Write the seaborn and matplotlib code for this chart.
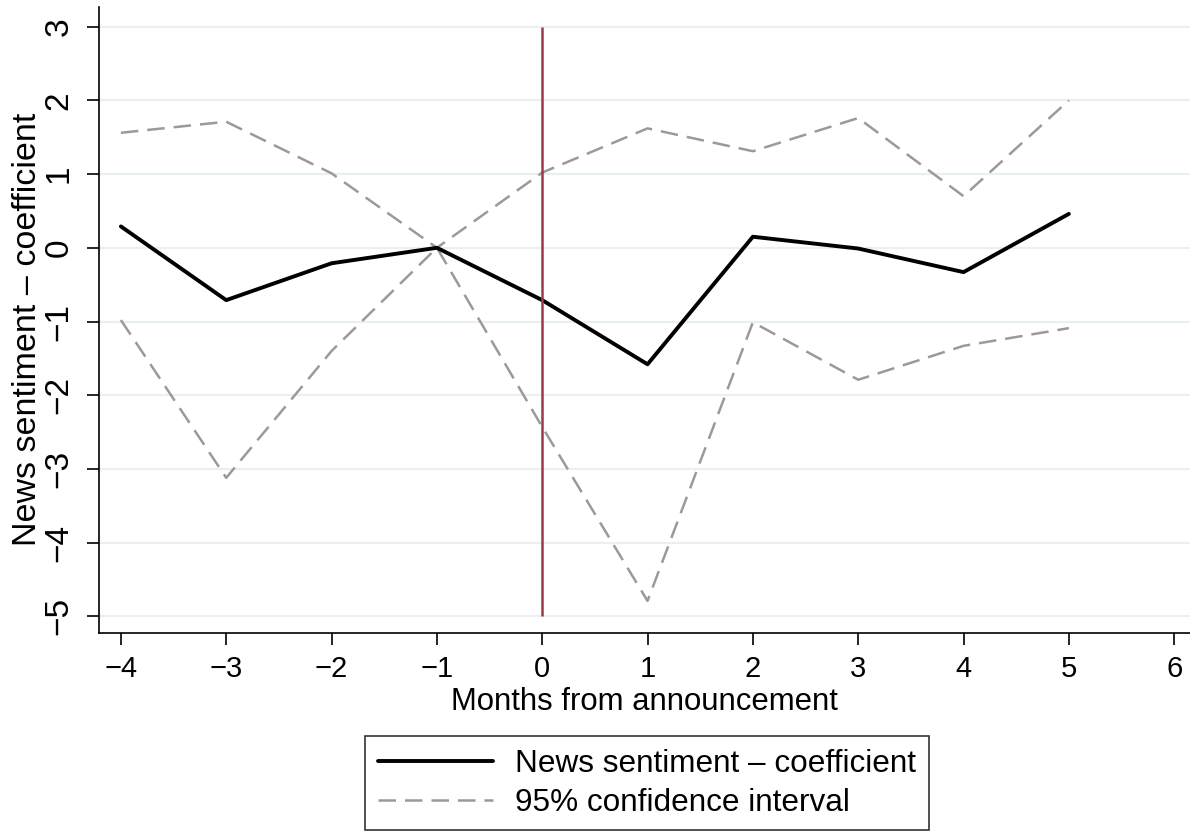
import matplotlib
matplotlib.use("Agg")
import matplotlib.pyplot as plt
import seaborn as sns
import pandas as pd
from matplotlib.lines import Line2D

# Event-study estimates: months relative to the announcement
months = [-4, -3, -2, -1, 0, 1, 2, 3, 4, 5]
coef = [0.29, -0.71, -0.21, 0.0, -0.71, -1.58, 0.15, -0.01, -0.33, 0.46]
ci_upper = [1.56, 1.71, 1.01, 0.0, 1.02, 1.62, 1.31, 1.76, 0.70, 2.00]
ci_lower = [-0.98, -3.12, -1.40, 0.0, -2.43, -4.79, -1.01, -1.79, -1.33, -1.09]

x_ticks = [-4, -3, -2, -1, 0, 1, 2, 3, 4, 5, 6]
y_ticks = [-5, -4, -3, -2, -1, 0, 1, 2, 3]
event_month = 0

sns.set_theme(style="white")
plt.rcParams["font.family"] = ["Liberation Sans", "DejaVu Sans"]
plt.rcParams["text.color"] = "black"
plt.rcParams["axes.labelcolor"] = "black"
plt.rcParams["xtick.color"] = "black"
plt.rcParams["ytick.color"] = "black"

df = pd.DataFrame({"month": months, "coef": coef,
                   "upper": ci_upper, "lower": ci_lower})

fig = plt.figure(figsize=(11.9, 8.4), dpi=100)
ax = fig.add_axes([0.083, 0.246, 0.917, 0.746])

grid_color = "#e8f0f2"
for yt in y_ticks:
    ax.axhline(yt, color=grid_color, lw=1.6, zorder=0)

ci_color = "#9a9a9a"
ci_dash = (0, (7, 3.6))
sns.lineplot(data=df, x="month", y="upper", ax=ax, color=ci_color,
             lw=1.8, linestyle=ci_dash, zorder=2)
sns.lineplot(data=df, x="month", y="lower", ax=ax, color=ci_color,
             lw=1.8, linestyle=ci_dash, zorder=2)
sns.lineplot(data=df, x="month", y="coef", ax=ax, color="black",
             lw=2.8, zorder=3)

ax.vlines(event_month, min(y_ticks), max(y_ticks), color="#9b3b44",
          lw=1.8, zorder=4)

ax.set_xlim(-4.21, 6.15)
ax.set_ylim(-5.23, 3.27)
ax.set_xticks(x_ticks)
ax.set_yticks(y_ticks)
ax.set_xticklabels([f"{v}".replace("-", "\u2212") for v in x_ticks])
ax.set_yticklabels([f"{v}".replace("-", "\u2212") for v in y_ticks],
                   rotation=90, va="center")

for side in ["top", "right"]:
    ax.spines[side].set_visible(False)
for side in ["left", "bottom"]:
    ax.spines[side].set_color("black")
    ax.spines[side].set_linewidth(1.2)

ax.tick_params(axis="both", which="major", direction="out", length=8.6,
               width=1.2, color="black", left=True, bottom=True)
ax.tick_params(axis="x", labelsize=21, pad=7)
ax.tick_params(axis="y", labelsize=24, pad=9)

ax.set_xlabel("Months from announcement", fontsize=22.4, labelpad=3)
ax.set_ylabel("News sentiment \u2013 coefficient", fontsize=24.5)
ax.yaxis.set_label_coords(-0.051, 0.486)

handles = [
    Line2D([], [], color="black", lw=2.8),
    Line2D([], [], color=ci_color, lw=1.8, linestyle=ci_dash),
]
labels = ["News sentiment \u2013 coefficient", "95% confidence interval"]
leg = fig.legend(handles, labels, loc="center",
                 bbox_to_anchor=(0.5437, 0.0673), fontsize=22.7,
                 frameon=True, fancybox=False, handlelength=3.65,
                 handletextpad=0.7, borderpad=0.4, labelspacing=0.28,
                 borderaxespad=0)
leg.get_frame().set_edgecolor("black")
leg.get_frame().set_linewidth(1.2)

fig.savefig("out.png", dpi=100, facecolor="white")
